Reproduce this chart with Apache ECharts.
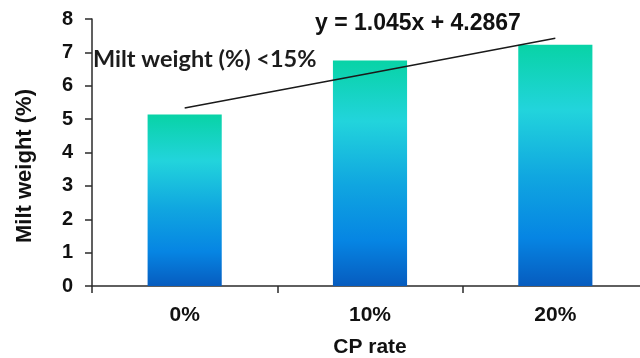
<!DOCTYPE html>
<html>
<head>
<meta charset="utf-8">
<script src="https://cdn.jsdelivr.net/npm/echarts@6/dist/echarts.min.js"></script>
<style>
  html, body { margin: 0; padding: 0; background: #fff; }
  #chart { width: 640px; height: 358px; }
</style>
</head>
<body>
<div id="chart"></div>
<script>
// CP inclusion rates and mean milt weight per group
const categories = ['0%', '10%', '20%'];
const miltWeight = [5.14, 6.76, 7.23];

// Linear trend fitted over the group index (x = 1, 2, 3)
const trendSlope = 1.045;
const trendIntercept = 4.2867;
const trendValues = categories.map((_, i) => trendSlope * (i + 1) + trendIntercept);

const equationText = 'y = ' + trendSlope + 'x + ' + trendIntercept;
const noteText = 'Milt weight (%) <15%';
const yTitle = 'Milt weight (%)';
const xTitle = 'CP rate';

const axisColor = '#2b2b2b';
const textColor = '#111';
const boldSans = 'Liberation Sans, Arial, sans-serif';

const chart = echarts.init(document.getElementById('chart'), null, { renderer: 'canvas' });

chart.setOption({
  animation: false,
  backgroundColor: '#fff',
  grid: { left: 92, right: -8, top: 19, bottom: 72, containLabel: false, outerBoundsMode: 'none' },
  xAxis: {
    type: 'category',
    data: categories,
    boundaryGap: true,
    axisLine: { lineStyle: { color: axisColor, width: 1.5 } },
    axisTick: { show: true, alignWithLabel: false, length: 7, lineStyle: { color: axisColor, width: 1.5 } },
    axisLabel: { margin: 19, color: textColor, fontFamily: boldSans, fontWeight: 'bold', fontSize: 21 },
    name: xTitle,
    nameLocation: 'middle',
    nameGap: 51,
    nameTextStyle: { color: textColor, fontFamily: boldSans, fontWeight: 'bold', fontSize: 21 }
  },
  yAxis: {
    type: 'value',
    min: 0,
    max: 8,
    interval: 1,
    splitLine: { show: false },
    axisLine: { show: true, lineStyle: { color: axisColor, width: 1.5 } },
    axisTick: { show: true, length: 7, lineStyle: { color: axisColor, width: 1.5 } },
    axisLabel: { margin: 19, color: textColor, fontFamily: boldSans, fontWeight: 'bold', fontSize: 20 }
  },
  series: [
    {
      type: 'bar',
      data: miltWeight,
      barWidth: '40%',
      itemStyle: {
        color: new echarts.graphic.LinearGradient(0, 0, 0, 1, [
          { offset: 0, color: '#08d3a6' },
          { offset: 0.27, color: '#22d4dc' },
          { offset: 0.55, color: '#10a6e0' },
          { offset: 0.8, color: '#0685e3' },
          { offset: 1, color: '#065cbf' }
        ])
      },
      z: 2
    },
    {
      type: 'line',
      data: trendValues,
      symbol: 'none',
      lineStyle: { color: '#1a1a1a', width: 1.5 },
      z: 3
    }
  ],
  graphic: [
    {
      type: 'text',
      left: 315,
      top: 12,
      style: { text: equationText, fill: textColor, font: 'bold 23px ' + boldSans }
    },
    {
      type: 'text',
      left: 93,
      top: 47,
      style: { text: noteText, fill: '#1c1c1c', font: 'bold 23.5px Lato, "Open Sans", sans-serif' }
    },
    {
      type: 'text',
      x: 25,
      y: 166,
      rotation: Math.PI / 2,
      style: {
        text: yTitle,
        fill: textColor,
        font: 'bold 22px ' + boldSans,
        align: 'center',
        verticalAlign: 'middle'
      }
    }
  ]
});
</script>
</body>
</html>
